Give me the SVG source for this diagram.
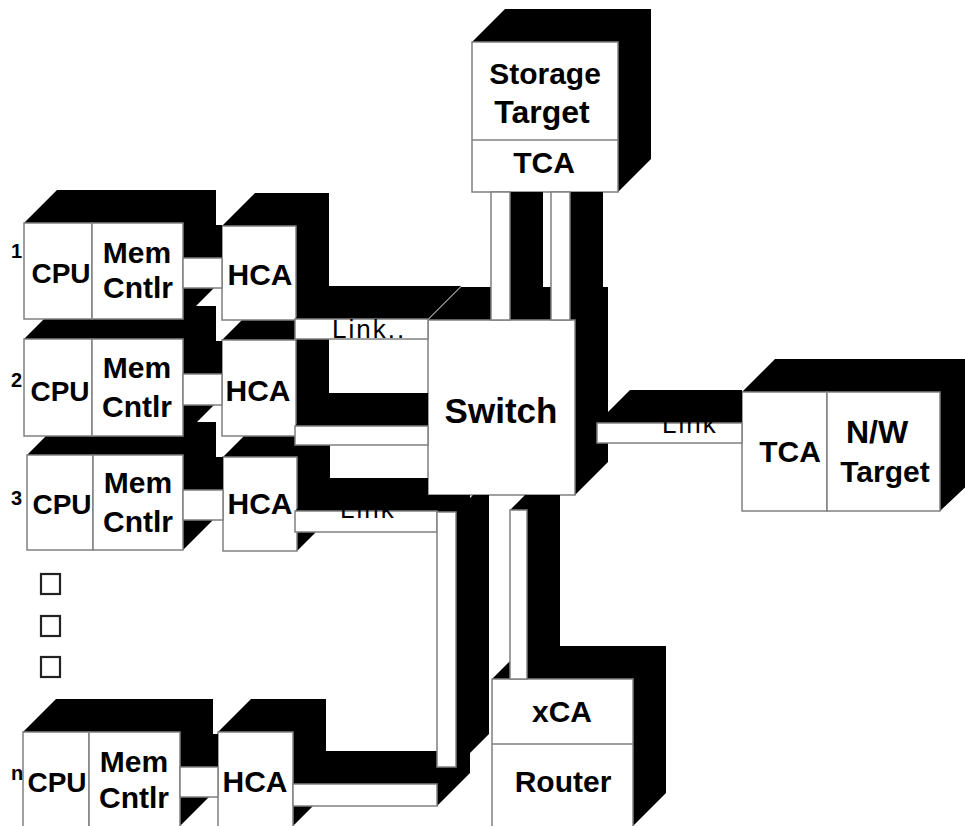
<svg xmlns="http://www.w3.org/2000/svg" width="965" height="826" viewBox="0 0 965 826">
<style>
.f{fill:#fff;stroke:#808080;stroke-width:1.5}
.x{fill:#000}
.dv{stroke:#808080;stroke-width:1.5}
text{font-family:"Liberation Sans",Arial,Helvetica,sans-serif;fill:#000;text-anchor:middle;font-weight:bold}
.s28{font-size:28px}
.s30{font-size:30px}
.s31{font-size:31px}
.s32{font-size:32px}
.sup{font-size:20px;text-anchor:start}
.lk{font-size:26px;letter-spacing:2px;text-anchor:start;font-weight:normal}
.sq{fill:none;stroke:#222;stroke-width:2.2}
</style>
<rect width="965" height="826" fill="#fff"/>

<!-- Row n -->
<g id="cpuN"><polygon class="x" points="23,732 56,699 122,699 122,793 89,826 89,732"/><rect class="f" x="23" y="732" width="66" height="100"/><text class="sup" x="11" y="780">n</text><text class="s28" x="57" y="792">CPU</text></g>
<g id="memN"><polygon class="x" points="89,732 122,699 213,699 213,793 180,826 180,732"/><rect class="f" x="89" y="732" width="91" height="100"/><text class="s30" x="134" y="772">Mem</text><text class="s30" x="134" y="808">Cntlr</text></g>
<g id="hcaN"><polygon class="x" points="218,732 251,699 326,699 326,793 293,826 293,732"/><rect class="f" x="218" y="732" width="75" height="100"/><text class="s30" x="255" y="792">HCA</text></g>

<!-- Row 3 -->
<g id="cpu3"><polygon class="x" points="27,455 60,422 126,422 126,517 93,550 93,455"/><rect class="f" x="27" y="455" width="66" height="95"/><text class="sup" x="11" y="505">3</text><text class="s28" x="62" y="514">CPU</text></g>
<g id="mem3"><polygon class="x" points="93,455 126,422 216,422 216,517 183,550 183,455"/><rect class="f" x="93" y="455" width="90" height="95"/><text class="s30" x="138" y="493">Mem</text><text class="s30" x="138" y="532">Cntlr</text></g>
<g id="hca3"><polygon class="x" points="223,457 256,424 330,424 330,518 297,551 297,457"/><rect class="f" x="223" y="457" width="74" height="94"/><text class="s30" x="260" y="514">HCA</text></g>

<!-- Row 2 -->
<g id="cpu2"><polygon class="x" points="24,339 57,306 125,306 125,403 92,436 92,339"/><rect class="f" x="24" y="339" width="68" height="97"/><text class="sup" x="11" y="387">2</text><text class="s28" x="60" y="401">CPU</text></g>
<g id="mem2"><polygon class="x" points="92,339 125,306 216,306 216,403 183,436 183,339"/><rect class="f" x="92" y="339" width="91" height="97"/><text class="s30" x="137" y="378">Mem</text><text class="s30" x="137" y="417">Cntlr</text></g>
<g id="hca2"><polygon class="x" points="222,340 255,307 329,307 329,403 296,436 296,340"/><rect class="f" x="222" y="340" width="74" height="96"/><text class="s30" x="258" y="401">HCA</text></g>

<!-- Row 1 -->
<g id="cpu1"><polygon class="x" points="24,223 57,190 125,190 125,286 92,319 92,223"/><rect class="f" x="24" y="223" width="68" height="96"/><text class="sup" x="11" y="258">1</text><text class="s28" x="61" y="283">CPU</text></g>
<g id="mem1"><polygon class="x" points="92,223 125,190 216,190 216,286 183,319 183,223"/><rect class="f" x="92" y="223" width="91" height="96"/><text class="s30" x="137" y="263">Mem</text><text class="s30" x="138" y="298">Cntlr</text></g>
<g id="hca1"><polygon class="x" points="222,226 255,193 329,193 329,287 296,320 296,226"/><rect class="f" x="222" y="226" width="74" height="94"/><text class="s30" x="260" y="285">HCA</text></g>

<!-- ellipsis boxes -->
<g id="more"><rect class="sq" x="41" y="574" width="19" height="20"/><rect class="sq" x="41" y="616" width="19" height="20"/><rect class="sq" x="41" y="657" width="19" height="20"/></g>

<g id="switch"><polygon class="x" points="428,320 461,287 608,287 608,462 575,495 575,320"/><rect class="f" x="428" y="320" width="147" height="175"/><text x="501" y="423" style="font-size:35px">Switch</text></g>

<g id="storage"><polygon class="x" points="472,42 505,9 651,9 651,159 618,192 618,42"/><rect class="f" x="472" y="42" width="146" height="150"/><line class="dv" x1="472" y1="140" x2="618" y2="140"/><text class="s30" x="545" y="84">Storage</text><text class="s32" x="542" y="123">Target</text><text class="s30" x="544" y="173">TCA</text></g>

<g id="nwtarget"><polygon class="x" points="742,392 775,359 975,359 975,478 940,511 940,392"/><rect class="f" x="742" y="392" width="85" height="119"/><rect class="f" x="827" y="392" width="113" height="119"/><text class="s30" x="790" y="462">TCA</text><text class="s32" x="877" y="443">N/W</text><text class="s30" x="885" y="482">Target</text></g>

<g id="router"><polygon class="x" points="492,679 525,646 666,646 666,793 633,826 633,679"/><rect class="f" x="492" y="679" width="141" height="152"/><line class="dv" x1="492" y1="744" x2="633" y2="744"/><text class="s30" x="562" y="722">xCA</text><text class="s30" x="563" y="792">Router</text></g>

<g id="connectors">
<!-- Mem to HCA -->
<polygon class="x" points="183,258 216,225 222,225 222,258"/><rect class="f" x="183" y="258" width="39" height="30"/>
<polygon class="x" points="183,374 216,341 222,341 222,374"/><rect class="f" x="183" y="374" width="39" height="31"/>
<polygon class="x" points="183,490 216,457 223,457 223,490"/><rect class="f" x="183" y="490" width="40" height="30"/>
<polygon class="x" points="180,767 213,734 218,734 218,767"/><rect class="f" x="180" y="767" width="38" height="30"/>
<!-- HCA to switch -->
<polygon class="x" points="295,319 328,286 461,286 428,319"/><rect class="f" x="295" y="319" width="133" height="20"/><text class="lk" x="332" y="338">Link..</text>
<polygon class="x" points="295,426 328,393 428,393 428,426"/><rect class="f" x="295" y="426" width="133" height="19"/>
<polygon class="x" points="295,511 328,478 428,478 428,495 470,495 470,499 437,532 437,511"/><rect class="f" x="295" y="511" width="142" height="21"/><text class="lk" x="340" y="518">Link</text>
<polygon class="x" points="293,784 326,751 470,751 470,773 437,806 437,784"/>
<polygon class="x" points="456,512 473,495 489,495 489,734 456,767"/>
<rect class="f" x="293" y="784" width="144" height="22"/><rect class="f" x="437" y="512" width="19" height="255"/>
<!-- storage to switch -->
<polygon class="x" points="510,192 543,192 543,287 510,320"/><rect class="f" x="491" y="192" width="19" height="128"/>
<polygon class="x" points="570,192 603,192 603,287 570,320"/><rect class="f" x="551" y="192" width="19" height="128"/>
<!-- switch to N/W -->
<polygon class="x" points="597,423 630,390 742,390 742,423"/><rect class="f" x="597" y="423" width="145" height="20"/><text class="lk" x="662" y="433">Link</text>
<!-- switch to router -->
<polygon class="x" points="510,510 525,495 560,495 560,646 527,679 527,510"/><rect class="f" x="510" y="510" width="17" height="169"/>
</g>
</svg>
